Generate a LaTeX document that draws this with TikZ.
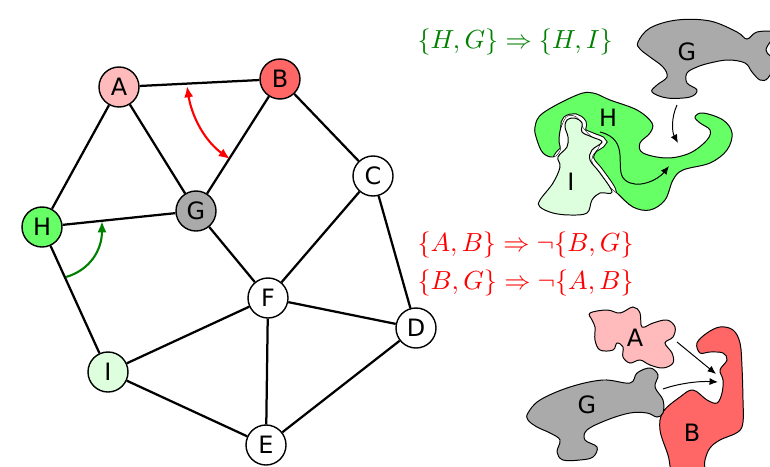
\documentclass[tikz,border=0pt]{standalone}
\usepackage{fontspec}
\usetikzlibrary{arrows.meta}
\newfontfamily\nodefont{DejaVu Sans}
\newcommand\lbl{\nodefont\fontsize{17}{20}\selectfont}

\definecolor{clrA}{RGB}{255,187,187}
\definecolor{clrB}{RGB}{255,102,102}
\definecolor{clrG}{RGB}{170,170,170}
\definecolor{clrH}{RGB}{102,255,102}
\definecolor{clrI}{RGB}{221,255,221}
\definecolor{darkgreen}{RGB}{0,128,0}

\begin{document}
\begin{tikzpicture}[x=0.025cm,y=-0.025cm,
    vertex/.style={circle,draw,line width=1pt,minimum size=1cm,inner sep=0pt,font=\lbl},
    edge/.style={line width=1.6pt},
    blob/.style={draw,line width=0.7pt},
    angle/.style={line width=1.5pt},
    push/.style={line width=0.7pt,-{Latex[length=6pt,width=5pt]}},
    rule/.style={inner sep=0pt,anchor=west,scale=1.86}]
    \useasboundingbox (0,0) rectangle (770,467);

    % the graph
    \node[vertex,fill=clrA] (A) at (119,87)  {A};
    \node[vertex,fill=clrB] (B) at (280,79)  {B};
    \node[vertex]           (C) at (373,176) {C};
    \node[vertex]           (D) at (416,328) {D};
    \node[vertex]           (E) at (266,445) {E};
    \node[vertex]           (F) at (268,298) {F};
    \node[vertex,fill=clrG] (G) at (196,211) {G};
    \node[vertex,fill=clrH] (H) at (42,227)  {H};
    \node[vertex,fill=clrI] (I) at (108,372) {I};

    \draw[edge] (A) -- (B) (A) -- (H) (A) -- (G) (B) -- (G) (B) -- (C)
                (H) -- (G) (H) -- (I) (G) -- (F) (C) -- (F) (C) -- (D)
                (F) -- (D) (F) -- (I) (F) -- (E) (I) -- (E) (E) -- (D);

    % angles between edges
    \coordinate (ab) at (187,86);
    \coordinate (bg) at (230,159);
    \coordinate (hi) at (66,277);
    \coordinate (hg) at (102,221);
    \draw[angle,red,{Latex[length=8pt,width=6.5pt]}-{Latex[length=8pt,width=6.5pt]}]
        (ab) .. controls (192,118) and (206,142) .. (bg);
    \draw[angle,darkgreen,-{Latex[length=8pt,width=6.5pt]}]
        (hi) .. controls (90,270) and (102,250) .. (hg);

    % rules
    \node[rule,text=darkgreen] (r1) at (417,42) {$\{H,G\}\Rightarrow\{H,I\}$};
    \node[rule,text=red] (r2) at (417,245) {$\{A,B\}\Rightarrow\neg\{B,G\}$};
    \node[rule,text=red] (r3) at (417,283) {$\{B,G\}\Rightarrow\neg\{A,B\}$};

    % G pushes H around I
    \filldraw[blob,fill=clrG] plot[smooth cycle,tension=0.6] coordinates {
        (638,42) (650,28) (677,20) (710,21) (737,32) (747,39) (757,32) (775,33)
        (766,50) (775,62) (768,78) (760,80) (752,72) (745,63) (728,60) (710,63)
        (697,67) (687,73) (687,83) (697,90) (690,97) (667,98) (652,92) (657,85)
        (667,77) (663,67) (650,57) (640,49)};
    \def\Hpath{plot[smooth cycle,tension=0.6] coordinates {
        (535,127) (543,113) (577,95) (593,93) (610,100) (637,110) (652,123)
        (650,133) (640,143) (643,153) (667,158) (690,153) (707,140) (710,130)
        (700,123) (695,117) (703,113) (723,120) (732,133) (727,150) (710,163)
        (683,170) (673,180) (665,200) (650,210) (633,207) (617,193) (603,180)
        (592,160) (600,145) (590,135) (583,127) (577,117) (567,116) (561,127)
        (559,140) (560,150) (553,157) (543,153) (537,140)}}
    \filldraw[blob,fill=clrH] \Hpath;
    \def\Ipath{plot[smooth cycle,tension=0.6] coordinates {
        (567,120) (575,118) (582,123) (582,132) (592,137) (602,142) (592,150)
        (590,160) (600,173) (612,192) (600,193) (592,200) (587,213) (570,215)
        (553,213) (540,207) (540,200) (553,183) (560,167) (558,157) (567,147)
        (568,137) (565,127)}}
    \begin{scope}
        \clip \Hpath;
        \draw[line width=6.6pt] \Ipath;
        \draw[white,line width=5.2pt] \Ipath;
    \end{scope}
    \filldraw[blob,fill=clrI] \Ipath;
    \node[font=\lbl] (gtop) at (687,52)  {G};
    \node[font=\lbl] (htop) at (608,118) {H};
    \node[font=\lbl] (itop) at (571,182) {I};
    \coordinate (g1) at (677,105);
    \coordinate (g2) at (678,143);
    \coordinate (h1) at (600,132);
    \coordinate (h2) at (669,166);
    \draw[push] (g1) .. controls (671,118) and (672,132) .. (g2);
    \draw[push] (h1) .. controls (632,140) and (613,170) .. (625,180)
                     .. controls (637,190) and (658,180) .. (h2);

    % A and G block B
    \filldraw[blob,fill=clrA] plot[smooth cycle,tension=0.6] coordinates {
        (590,313) (607,310) (620,313) (633,307) (640,313) (642,327) (653,323)
        (667,320) (675,327) (673,337) (665,343) (672,353) (673,363) (663,368)
        (650,365) (640,360) (630,363) (623,357) (623,347) (617,343) (613,350)
        (600,350) (595,340) (595,327) (592,320)};
    \filldraw[blob,fill=clrB] plot[smooth cycle,tension=0.6] coordinates {
        (697,343) (707,333) (720,327) (733,330) (740,343) (742,367) (743,400)
        (743,422) (738,432) (720,440) (710,448) (705,460) (702,478) (675,478)
        (668,455) (660,430) (663,412) (680,397) (693,390) (707,400) (717,403)
        (722,393) (723,380) (720,370) (727,360) (723,353) (710,352) (700,353)};
    \filldraw[blob,fill=clrG] plot[smooth cycle,tension=0.6] coordinates {
        (528,413) (540,400) (570,387) (603,380) (630,383) (637,373) (650,368)
        (658,375) (655,387) (663,400) (663,413) (657,417) (647,413) (630,413)
        (607,420) (587,430) (585,440) (597,447) (593,457) (580,460) (563,460)
        (557,452) (560,440) (550,433) (537,427) (528,420)};
    \node[font=\lbl] (abot) at (635,338) {A};
    \node[font=\lbl] (bbot) at (692,433) {B};
    \node[font=\lbl] (gbot) at (587,405) {G};
    \coordinate (a1) at (677,342);
    \coordinate (a2) at (716,374);
    \coordinate (b1) at (663,389);
    \coordinate (b2) at (718,382);
    \draw[push] (a1) -- (a2);
    \draw[push] (b1) .. controls (680,383) and (700,381) .. (b2);
\end{tikzpicture}
\end{document}
